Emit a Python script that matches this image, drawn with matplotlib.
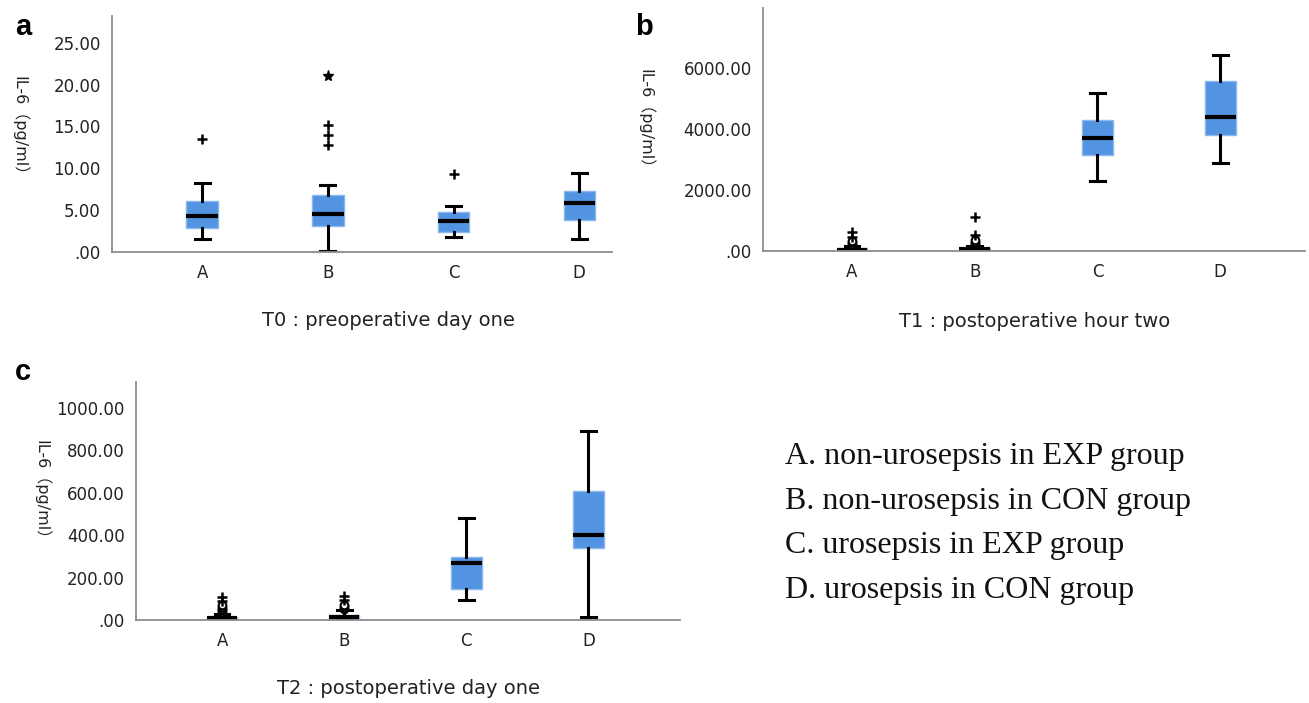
import matplotlib.pyplot as plt
from matplotlib.ticker import FuncFormatter

plt.rcParams['font.family'] = ['DejaVu Sans', 'Noto Sans CJK SC']

cats = ['A', 'B', 'C', 'D']
pos = [1, 2, 3, 4]

# T0 : preoperative day one
t0_q1 = [2.85, 3.1, 2.4, 3.8]
t0_med = [4.3, 4.6, 3.65, 5.8]
t0_q3 = [6.1, 6.8, 4.8, 7.3]
t0_lo = [1.55, 0.1, 1.8, 1.6]
t0_hi = [8.3, 8.0, 5.5, 9.4]
t0_circ = [[], [], [], []]
t0_plus = [[13.5], [15.2, 14.0, 12.8], [9.3], []]
t0_star = [[], [21.0], [], []]

# T1 : postoperative hour two
t1_q1 = [15, 15, 3165, 3800]
t1_med = [45, 50, 3710, 4400]
t1_q3 = [90, 100, 4290, 5570]
t1_lo = [0, 0, 2300, 2890]
t1_hi = [170, 180, 5190, 6450]
t1_circ = [[200, 240, 280, 330], [210, 260, 300, 350], [], []]
t1_plus = [[470, 610], [530, 1130], [], []]
t1_star = [[], [], [], []]

# T2 : postoperative day one
t2_q1 = [3, 5, 146, 342]
t2_med = [8, 12, 268, 400]
t2_q3 = [15, 25, 299, 607]
t2_lo = [0, 0, 93, 16]
t2_hi = [30, 45, 481, 893]
t2_circ = [[38, 45, 52, 60, 70], [52, 58, 65, 72], [], []]
t2_plus = [[88, 110], [92, 112], [], []]
t2_star = [[], [], [], []]

legend_lines = ['A. non-urosepsis in EXP group',
                'B. non-urosepsis in CON group',
                'C. urosepsis in EXP group',
                'D. urosepsis in CON group']


def fmt(v, p):
    s = f"{v:.2f}"
    return s[1:] if s.startswith('0') else s


def panel(ax, q1, med, q3, lo, hi, circ, plus, star, yticks, ylim, xlim, xlabel, xlab_x):
    stats = []
    for i in range(4):
        stats.append(dict(med=med[i], q1=q1[i], q3=q3[i], whislo=lo[i], whishi=hi[i], fliers=circ[i]))
    ax.bxp(stats, positions=pos, widths=0.25, capwidths=0.12, patch_artist=True,
           boxprops=dict(facecolor='#5294e2', edgecolor='#8ab8ee', linewidth=1),
           medianprops=dict(color='black', linewidth=3),
           whiskerprops=dict(color='black', linewidth=2.2),
           capprops=dict(color='black', linewidth=2.2),
           flierprops=dict(marker='o', markerfacecolor='white', markeredgecolor='black',
                           markersize=5.5, markeredgewidth=1.5))
    for i in range(4):
        if plus[i]:
            ax.plot([pos[i]] * len(plus[i]), plus[i], '+', color='black', ms=7, mew=1.8, ls='none')
        if star[i]:
            ax.plot([pos[i]] * len(star[i]), star[i], '*', color='black', ms=8, ls='none')
    ax.set_xlim(*xlim)
    ax.set_ylim(*ylim)
    ax.set_yticks(yticks)
    ax.yaxis.set_major_formatter(FuncFormatter(fmt))
    ax.set_xticks(pos)
    ax.set_xticklabels(cats)
    ax.tick_params(length=0, labelsize=12, colors='#222222')
    ax.tick_params(axis='y', pad=8)
    ax.tick_params(axis='x', pad=9)
    for s in ['top', 'right']:
        ax.spines[s].set_visible(False)
    for s in ['left', 'bottom']:
        ax.spines[s].set_color('#8c8c8c')
        ax.spines[s].set_linewidth(1.3)
    ax.set_xlabel(xlabel, fontsize=14, color='#222222')
    ax.xaxis.set_label_coords(xlab_x, -0.25)
    ax.set_ylabel('IL-6（pg/ml）', fontsize=11.5, rotation=270, va='center', ha='center', color='#222222')


fig = plt.figure(figsize=(13.09, 7.03), dpi=100)
ax_a = fig.add_axes([0.08556, 0.64154, 0.38197, 0.33570])
ax_b = fig.add_axes([0.58289, 0.64296, 0.41406, 0.34566])
ax_c = fig.add_axes([0.10390, 0.11807, 0.41559, 0.33855])

panel(ax_a, t0_q1, t0_med, t0_q3, t0_lo, t0_hi, t0_circ, t0_plus, t0_star,
      [0, 5, 10, 15, 20, 25], (0, 28.2), (0.283, 4.26), 'T0 : preoperative day one', 0.552)
ax_a.yaxis.set_label_coords(-0.184, 0.52)

panel(ax_b, t1_q1, t1_med, t1_q3, t1_lo, t1_hi, t1_circ, t1_plus, t1_star,
      [0, 2000, 4000, 6000], (0, 7980), (0.276, 4.69), 'T1 : postoperative hour two', 0.502)
ax_b.yaxis.set_label_coords(-0.216, 0.53)

panel(ax_c, t2_q1, t2_med, t2_q3, t2_lo, t2_hi, t2_circ, t2_plus, t2_star,
      [0, 200, 400, 600, 800, 1000], (0, 1123), (0.295, 4.75), 'T2 : postoperative day one', 0.5)
ax_c.yaxis.set_label_coords(-0.173, 0.53)

fig.text(15 / 1309, 1 - 35 / 703, 'a', fontsize=21, fontweight='bold', family='Liberation Sans')
fig.text(635 / 1309, 1 - 35 / 703, 'b', fontsize=21, fontweight='bold', family='Liberation Sans')
fig.text(15 / 1309, 1 - 380 / 703, 'c', fontsize=21, fontweight='bold', family='Liberation Sans')

for i, line in enumerate(legend_lines):
    fig.text(785 / 1309, 1 - (464 + 44.7 * i) / 703, line, fontsize=23,
             family='Liberation Serif', va='baseline', color='#111111')

fig.savefig('out.png', dpi=100)
